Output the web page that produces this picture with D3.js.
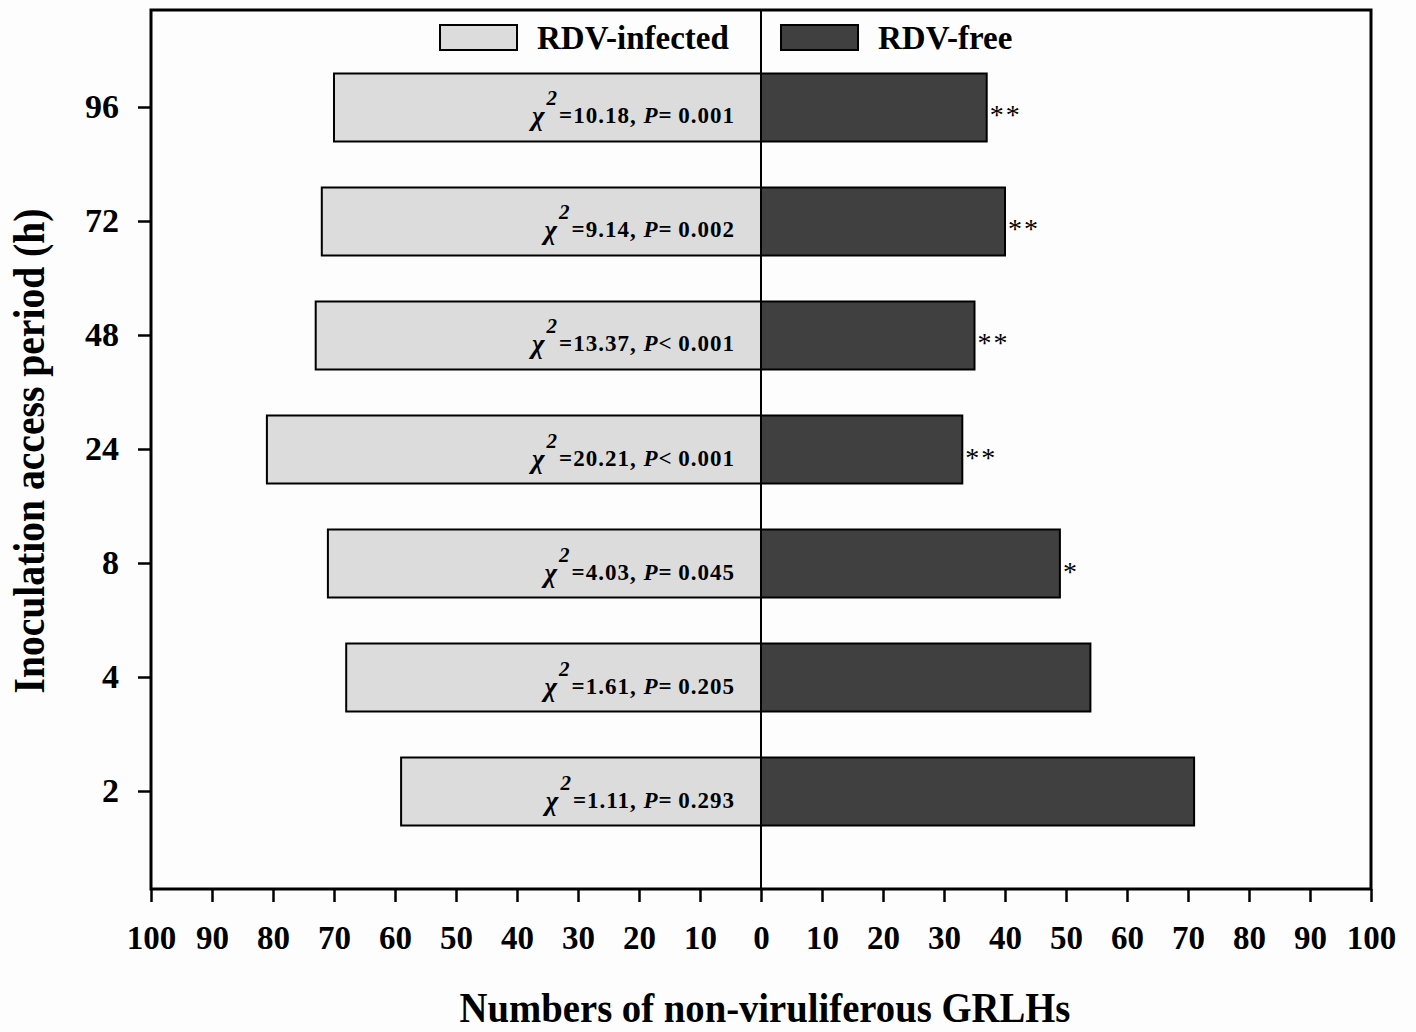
<!DOCTYPE html>
<html>
<head>
<meta charset="utf-8">
<script src="https://cdn.jsdelivr.net/npm/d3@7"></script>
<style>
  body { margin: 0; background: #fdfdfd; }
  svg { font-family: "Liberation Serif", "Times New Roman", serif; font-weight: bold; }
</style>
</head>
<body>
<svg id="chart" width="1416" height="1032"></svg>
<script>
// data
const periods = ["96", "72", "48", "24", "8", "4", "2"];
const infected = [70, 72, 73, 81, 71, 68, 59];
const free = [37, 40, 35, 33, 49, 54, 71];
const chiSq = ["10.18", "9.14", "13.37", "20.21", "4.03", "1.61", "1.11"];
const pSign = ["=", "=", "<", "<", "=", "=", "="];
const pVal = ["0.001", "0.002", "0.001", "0.001", "0.045", "0.205", "0.293"];
const stars = ["**", "**", "**", "**", "*", "", ""];
const xTicks = d3.range(-100, 101, 10);

const svg = d3.select("#chart");

const plotLeft = 151, plotRight = 1371, plotTop = 10, plotBottom = 889;

const x = d3.scaleLinear().domain([-100, 100]).range([plotLeft, plotRight]);
const y = d3.scaleBand().domain(periods).range([plotTop, plotBottom])
    .paddingInner(0.4035).paddingOuter(0.557);

const fillInf = "#dcdcdc", fillFree = "#404040";

// infected bars (left)
svg.append("g").selectAll("rect")
    .data(periods)
    .join("rect")
    .attr("x", (d, i) => x(-infected[i]))
    .attr("y", d => y(d))
    .attr("width", (d, i) => x(0) - x(-infected[i]))
    .attr("height", y.bandwidth())
    .attr("fill", fillInf)
    .attr("stroke", "#000")
    .attr("stroke-width", 2);

// free bars (right)
svg.append("g").selectAll("rect")
    .data(periods)
    .join("rect")
    .attr("x", x(0))
    .attr("y", d => y(d))
    .attr("width", (d, i) => x(free[i]) - x(0))
    .attr("height", y.bandwidth())
    .attr("fill", fillFree)
    .attr("stroke", "#000")
    .attr("stroke-width", 2);

// chi-square annotations
const ann = svg.append("g").selectAll("text")
    .data(periods)
    .join("text")
    .attr("x", x(0) - 26)
    .attr("y", d => y(d) + y.bandwidth() / 2 + 16)
    .attr("text-anchor", "end")
    .style("font-size", "23px")
    .style("letter-spacing", "1px");
ann.append("tspan").style("font-style", "italic").style("font-size", "27px").attr("dy", 2).text("\u03c7");
ann.append("tspan").style("font-style", "italic").style("font-size", "21px").attr("dy", -20).attr("dx", 1).text("2");
ann.append("tspan").attr("dy", 18).attr("dx", 1).text((d, i) => "=" + chiSq[i] + ", ");
ann.append("tspan").style("font-style", "italic").text("P");
ann.append("tspan").text((d, i) => pSign[i] + "\u2009" + pVal[i]);

// significance stars
svg.append("g").selectAll("text")
    .data(periods)
    .join("text")
    .attr("x", (d, i) => x(free[i]) + 3)
    .attr("y", d => y(d) + y.bandwidth() / 2 + 17)
    .style("font-size", "28px")
    .style("font-weight", "normal")
    .style("letter-spacing", "2px")
    .text((d, i) => stars[i]);

// zero line
svg.append("line")
    .attr("x1", x(0)).attr("x2", x(0))
    .attr("y1", plotTop).attr("y2", plotBottom)
    .attr("stroke", "#000").attr("stroke-width", 2);

// frame
svg.append("rect")
    .attr("x", plotLeft).attr("y", plotTop)
    .attr("width", plotRight - plotLeft).attr("height", plotBottom - plotTop)
    .attr("fill", "none").attr("stroke", "#000").attr("stroke-width", 3);

// x axis
const xAxis = svg.append("g")
    .attr("transform", `translate(0,${plotBottom})`)
    .call(d3.axisBottom(x).tickValues(xTicks).tickSize(13).tickPadding(24)
        .tickFormat(d => Math.abs(d)).tickSizeOuter(0));
xAxis.select(".domain").remove();
xAxis.selectAll(".tick line").attr("stroke-width", 2.5);
xAxis.selectAll(".tick text")
    .attr("fill", "#000")
    .style("font-size", "33px")
    .style("font-family", "Liberation Serif")
    .style("font-weight", "bold");

// y axis
const yAxis = svg.append("g")
    .attr("transform", `translate(${plotLeft},0)`)
    .call(d3.axisLeft(y).tickSize(13).tickPadding(19).tickSizeOuter(0));
yAxis.select(".domain").remove();
yAxis.selectAll(".tick line").attr("stroke-width", 2.5);
yAxis.selectAll(".tick text")
    .attr("fill", "#000")
    .style("font-size", "34px")
    .style("font-family", "Liberation Serif")
    .style("font-weight", "bold");

// axis titles (narrow, tall lettering like the original)
svg.append("text")
    .attr("transform", "translate(765,1022) scale(0.9,1)")
    .attr("text-anchor", "middle")
    .style("font-size", "43px")
    .text("Numbers of non-viruliferous GRLHs");

svg.append("text")
    .attr("transform", "translate(44,451) rotate(-90) scale(0.9,1)")
    .attr("text-anchor", "middle")
    .style("font-size", "44px")
    .text("Inoculation access period (h)");

// legend
const legendNames = ["RDV-infected", "RDV-free"];
const legendFills = [fillInf, fillFree];
const legendX = [440, 781];
legendNames.forEach((n, i) => {
    svg.append("rect")
        .attr("x", legendX[i]).attr("y", 25)
        .attr("width", 77).attr("height", 25)
        .attr("fill", legendFills[i])
        .attr("stroke", "#000").attr("stroke-width", 2);
    svg.append("text")
        .attr("x", legendX[i] + 97)
        .attr("y", 49)
        .style("font-size", "33px")
        .text(n);
});
</script>
</body>
</html>
